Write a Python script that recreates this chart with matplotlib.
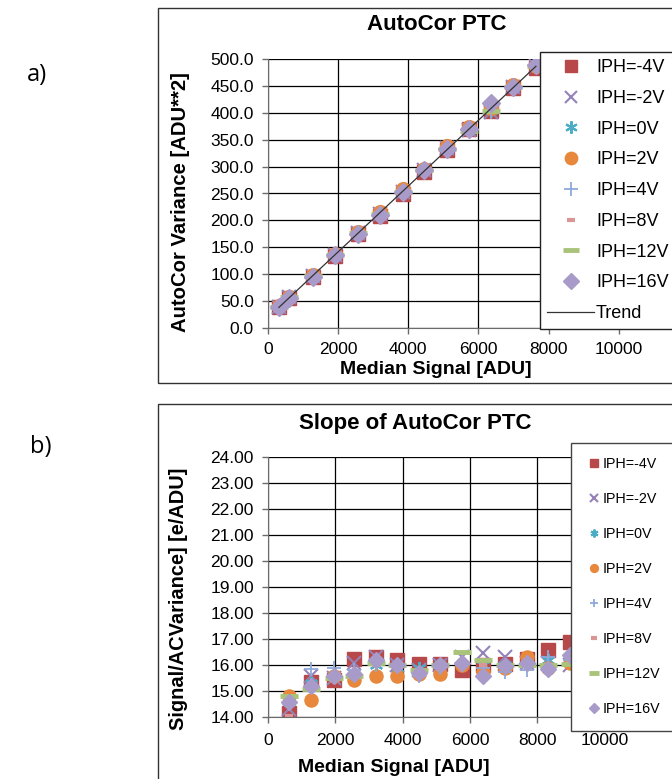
import numpy as np
import matplotlib.pyplot as plt
from matplotlib.patches import Rectangle

# ---- data -------------------------------------------------------------
labels = ['IPH=-4V', 'IPH=-2V', 'IPH=0V', 'IPH=2V', 'IPH=4V', 'IPH=8V', 'IPH=12V', 'IPH=16V']

# panel a) AutoCor PTC
signal_a = [320, 620, 1280, 1920, 2560, 3200, 3840, 4460, 5100, 5740, 6370, 7000, 7640]
var_m4 = [38, 56, 95, 134, 174, 209, 249, 290, 331, 370, 403, 447, 484]
var_m2 = [39, 57, 96, 136, 176, 211, 252, 293, 334, 368, 401, 449, 488]
var_0 = [40, 57, 97, 136, 177, 213, 254, 294, 334, 369, 405, 449, 490]
var_2 = [40, 57, 99, 137, 178, 215, 258, 295, 338, 373, 410, 453, 487]
var_4 = [39, 56, 96, 135, 176, 212, 253, 293, 333, 371, 404, 449, 488]
var_8 = [39, 56, 96, 136, 176, 211, 252, 293, 333, 371, 405, 449, 487]
var_12 = [39, 57, 97, 136, 177, 212, 253, 293, 333, 366, 404, 448, 487]
var_16 = [38, 56, 95, 135, 175, 210, 252, 294, 333, 371, 418, 449, 489]

# panel b) slope of AutoCor PTC
signal_b = [640, 1280, 1960, 2560, 3200, 3840, 4480, 5120, 5760, 6400, 7040, 7680, 8320, 8960]
slope_m4 = [14.15, 15.35, 15.45, 16.25, 16.3, 16.2, 16.05, 16.05, 15.8, 16.0, 16.05, 16.25, 16.6, 16.9]
slope_m2 = [14.3, 15.6, 15.5, 16.1, 16.3, 16.0, 15.8, 16.0, 16.3, 16.45, 16.3, 16.1, 16.1, 16.0]
slope_0 = [14.6, 15.3, 15.6, 15.7, 16.0, 15.9, 15.9, 16.0, 16.0, 16.0, 16.0, 16.1, 16.2, 16.1]
slope_2 = [14.8, 14.65, 15.6, 15.45, 15.6, 15.6, 15.65, 15.65, 16.0, 15.75, 15.9, 16.3, 15.9, 16.1]
slope_4 = [14.5, 15.85, 15.9, 15.8, 16.0, 15.95, 15.6, 15.9, 16.0, 15.9, 15.75, 15.8, 16.3, 16.2]
slope_8 = [14.05, 15.1, 15.45, 15.5, 16.0, 16.0, 15.8, 16.0, 16.1, 16.0, 16.0, 16.2, 16.0, 16.1]
slope_12 = [14.8, 15.1, 15.5, 15.6, 16.1, 16.0, 15.8, 16.0, 16.5, 16.2, 16.0, 16.0, 16.0, 16.05]
slope_16 = [14.6, 15.2, 15.6, 15.65, 16.2, 16.0, 15.7, 16.0, 16.1, 15.6, 15.95, 16.1, 15.85, 16.4]

variances = [var_m4, var_m2, var_0, var_2, var_4, var_8, var_12, var_16]
slopes = [slope_m4, slope_m2, slope_0, slope_2, slope_4, slope_8, slope_12, slope_16]

# marker style per series: (marker, colour, size, edge width)
styles = [
    ('s', '#B8494A', 9, 1.0),
    ('x', '#9582B8', 9, 1.5),
    ((6, 2, 0), '#4BACC6', 9, 1.5),
    ('o', '#E8883C', 9, 1.0),
    ('+', '#8EA9DB', 10, 1.3),
    ('_', '#D99694', 6, 3.0),
    ('_', '#A9C37A', 12, 3.5),
    ('D', '#A99BC9', 8, 1.0),
]

plt.rcParams['font.family'] = ['Liberation Sans', 'DejaVu Sans']

fig = plt.figure(figsize=(6.72, 7.79), dpi=100)
W, H = 672.0, 779.0


def fx(px):
    return px / W


def fy(py):
    return 1 - py / H


def style_axes(ax, xlim, ylim, yticks, yfmt):
    ax.set_xlim(*xlim)
    ax.set_ylim(*ylim)
    ax.set_xticks([0, 2000, 4000, 6000, 8000, 10000])
    ax.set_yticks(yticks)
    ax.set_yticklabels([yfmt.format(v) for v in yticks])
    ax.grid(True, color='black', linewidth=0.9)
    ax.set_axisbelow(True)
    for side in ['top', 'right']:
        ax.spines[side].set_visible(False)
    for side in ['left', 'bottom']:
        ax.spines[side].set_color('#6b6b6b')
    ax.tick_params(direction='out', length=4, width=1, color='#6b6b6b',
                   labelsize=12.5, pad=6)


def add_markers(ax, xs, ys_list, size_scale=1.0):
    handles = []
    for ys, (m, c, s, mew), lab in zip(ys_list, styles, labels):
        face = c if m in ('s', 'o', 'D') else 'none'
        h, = ax.plot(xs, ys, linestyle='none', marker=m, markersize=s * size_scale,
                     markerfacecolor=face, markeredgecolor=c, markeredgewidth=mew,
                     label=lab)
        handles.append(h)
    return handles


# ---- frames around the two panels -------------------------------------
fig.add_artist(Rectangle((fx(157.5), fy(383)), 1.0, fy(8.3) - fy(383),
                         transform=fig.transFigure, fill=False,
                         edgecolor='#333333', linewidth=1))
fig.add_artist(Rectangle((fx(157.5), -0.1), 1.0, fy(404) + 0.1,
                         transform=fig.transFigure, fill=False,
                         edgecolor='#333333', linewidth=1))

fig.text(0.055, fy(75), 'a)', fontsize=17, family=['Open Sans', 'DejaVu Sans'],
         ha='center', va='center')
fig.text(0.060, fy(447), 'b)', fontsize=17, family=['Open Sans', 'DejaVu Sans'],
         ha='center', va='center')

# ---- panel a ------------------------------------------------------------
left = fx(267.7)
ax1 = fig.add_axes([left, fy(327.7), fx(689) - left, fy(59.3) - fy(327.7)])
style_axes(ax1, (0, 12000), (0, 500), np.arange(0, 501, 50), '{:.1f}')
h1 = add_markers(ax1, signal_a, variances, 1.1)

all_x = np.tile(signal_a, len(variances))
all_y = np.concatenate(variances)
k, b = np.polyfit(all_x, all_y, 1)
tx = np.array([signal_a[0], signal_a[-1]])
trend, = ax1.plot(tx, k * tx + b, color='#333333', linewidth=0.9, label='Trend')

leg1 = ax1.legend(handles=h1 + [trend], loc='upper left',
                  bbox_to_anchor=(fx(540), 0.3, 0.4, fy(52) - 0.3),
                  bbox_transform=fig.transFigure, mode='expand', borderaxespad=0,
                  fontsize=13, labelspacing=0.76, borderpad=0.4, handlelength=2.6,
                  handletextpad=0.1, markerscale=0.9, fancybox=False,
                  framealpha=1, edgecolor='#222222')
leg1.get_frame().set_linewidth(1)

fig.text(fx(437), fy(25), 'AutoCor PTC', fontsize=16, fontweight='bold',
         ha='center', va='center')
fig.text(fx(436), fy(370), 'Median Signal [ADU]', fontsize=14, fontweight='bold',
         ha='center', va='center')
fig.text(fx(180), fy(202), 'AutoCor Variance [ADU**2]', fontsize=14.6,
         fontweight='bold', rotation=90, ha='center', va='center')

# ---- panel b ------------------------------------------------------------
ax2 = fig.add_axes([left, fy(717.3), fx(672.1) - left, fy(456.7) - fy(717.3)])
style_axes(ax2, (0, 12000), (14, 24), np.arange(14, 24.5, 1), '{:.2f}')
ax2.tick_params(axis='x', pad=7)
h2 = add_markers(ax2, signal_b, slopes, 1.05)

leg2 = ax2.legend(handles=h2, loc='upper left',
                  bbox_to_anchor=(fx(570.7), 0.05, 0.4, fy(442.7) - 0.05),
                  bbox_transform=fig.transFigure, mode='expand', borderaxespad=0,
                  fontsize=10.3, labelspacing=1.47, borderpad=1.0, handlelength=1.2,
                  handletextpad=0.05, markerscale=0.6, fancybox=False,
                  framealpha=1, edgecolor='#444444')
leg2.get_frame().set_linewidth(1)

fig.text(fx(415), fy(423), 'Slope of AutoCor PTC', fontsize=16, fontweight='bold',
         ha='center', va='center')
fig.text(fx(394), fy(767), 'Median Signal [ADU]', fontsize=14, fontweight='bold',
         ha='center', va='center')
fig.text(fx(178), fy(599), 'Signal/ACVariance] [e/ADU]', fontsize=14.4,
         fontweight='bold', rotation=90, ha='center', va='center')

fig.savefig('out.png', dpi=100)
